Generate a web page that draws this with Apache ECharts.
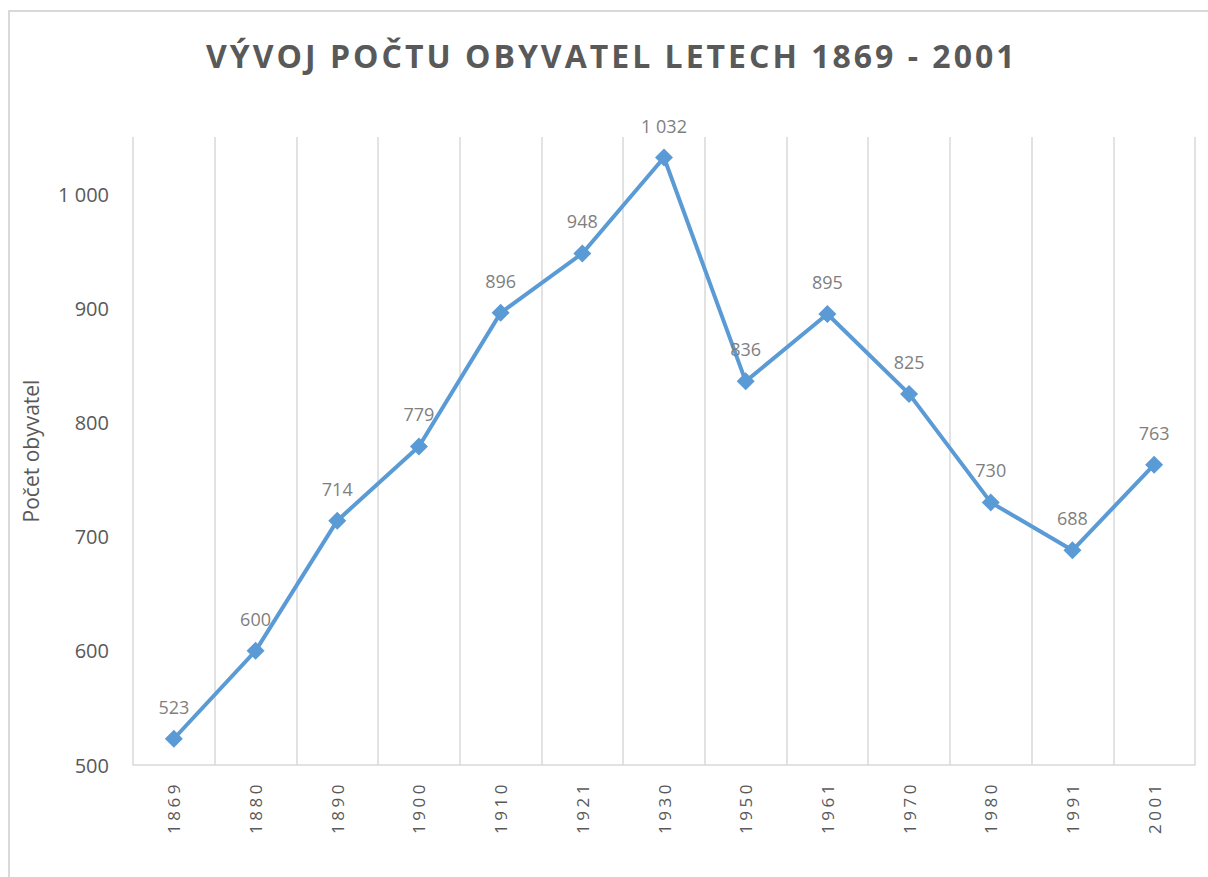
<!DOCTYPE html>
<html>
<head>
<meta charset="utf-8">
<script src="https://cdn.jsdelivr.net/npm/echarts@6/dist/echarts.min.js"></script>
<style>
  html, body { margin: 0; padding: 0; background: #fff; }
  #frame {
    position: absolute; left: 8px; top: 10px; width: 1300px; height: 1000px;
    border-left: 2px solid #d9d9d9; border-top: 2px solid #d9d9d9;
  }
  #main { position: absolute; left: 0; top: 0; width: 1208px; height: 877px; }
  /* prostrkani pisma jako v Excelu (nadpis a roky) */
  #main text[style*="32px"] { letter-spacing: 3px; }
  #main text[style*="17px"] { letter-spacing: 3.5px; }
</style>
</head>
<body>
<div id="frame"></div>
<div id="main"></div>
<script>
// roky scitani
const years = ['1869', '1880', '1890', '1900', '1910', '1921', '1930', '1950', '1961', '1970', '1980', '1991', '2001']
// pocet obyvatel
const population = [523, 600, 714, 779, 896, 948, 1032, 836, 895, 825, 730, 688, 763]

const fmt = v => String(v).replace(/\B(?=(\d{3})+(?!\d))/g, ' ')

const chart = echarts.init(document.getElementById('main'), null, { renderer: 'svg' })
const grey = '#595959'

const option = {
  animation: false,
  title: {
    text: 'VÝVOJ POČTU OBYVATEL LETECH 1869 - 2001',
    left: 201,
    top: 34,
    textStyle: {
      fontFamily: 'Open Sans',
      fontWeight: 'bold',
      fontSize: 32,
      color: grey
    }
  },
  grid: {
    left: 133,
    right: 13,
    top: 137,
    bottom: 112
  },
  xAxis: {
    type: 'category',
    data: years,
    boundaryGap: true,
    axisLine: { lineStyle: { color: '#d9d9d9', width: 1.5 } },
    axisTick: { show: false },
    splitLine: { show: true, lineStyle: { color: '#d9d9d9', width: 1.5 } },
    axisLabel: {
      rotate: 90,
      margin: 16,
      color: grey,
      fontSize: 17,
      fontFamily: 'Open Sans'
    }
  },
  yAxis: {
    type: 'value',
    min: 500,
    max: 1050,
    interval: 100,
    name: 'Počet obyvatel',
    nameLocation: 'middle',
    nameGap: 92,
    nameTextStyle: { color: grey, fontSize: 21, fontFamily: 'Open Sans' },
    axisLine: { show: false },
    axisTick: { show: false },
    splitLine: { show: false },
    axisLabel: {
      showMaxLabel: false,
      margin: 24,
      color: grey,
      fontSize: 20,
      fontFamily: 'Open Sans',
      formatter: v => fmt(v)
    }
  },
  series: [
    {
      type: 'line',
      data: population,
      symbol: 'diamond',
      symbolSize: 18,
      itemStyle: { color: '#5b9bd5' },
      lineStyle: { color: '#5b9bd5', width: 4 },
      label: {
        show: true,
        position: 'top',
        distance: 14,
        color: '#7f7f7f',
        fontSize: 18,
        fontFamily: 'Open Sans',
        formatter: p => fmt(p.value)
      }
    }
  ]
}
chart.setOption(option)
</script>
</body>
</html>
